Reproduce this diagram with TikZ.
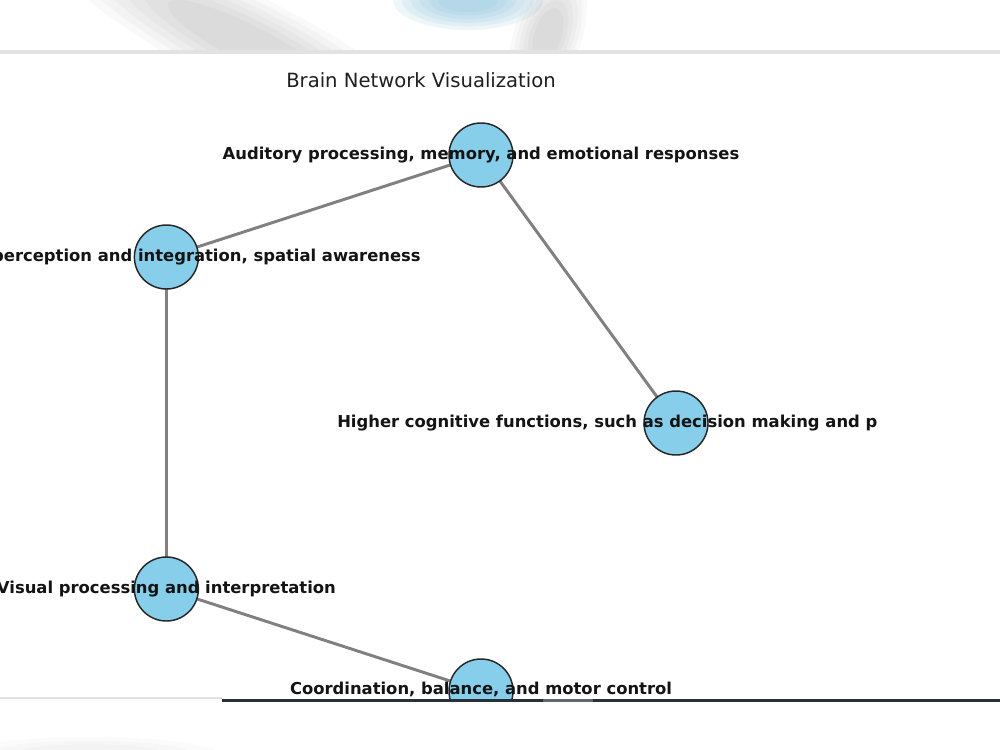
\documentclass[tikz,border=0pt]{standalone}
\usepackage{fontspec}
\setmainfont{DejaVu Sans}
\pgfdeclarelayer{bg}\pgfdeclarelayer{edges}\pgfdeclarelayer{top}
\pgfsetlayers{bg,edges,main,top}
\definecolor{sky}{HTML}{87CEEB}
\definecolor{blurblue}{HTML}{7FBFDA}
\definecolor{linkgray}{HTML}{808080}
\definecolor{darkbar}{HTML}{263238}
\definecolor{midbar}{HTML}{5F6A6E}
\definecolor{panelline}{HTML}{E2E2E2}
\begin{document}
\begin{tikzpicture}[x=0.75pt,y=-0.75pt,
  brainnode/.style={circle,fill=sky,draw=black!85,line width=1.1pt,minimum size=48pt,inner sep=0pt},
  link/.style={draw=linkgray,line width=2.2pt},
  lbl/.style={font=\fontsize{12.3}{14}\selectfont\bfseries,text=black!92,inner sep=0pt},
  ttl/.style={font=\fontsize{14.7}{17}\selectfont,text=black!88,inner sep=0pt},
  softgray/.style={fill=black,fill opacity=0.022},
  softblue/.style={fill=blurblue,fill opacity=0.13}]
\useasboundingbox (0,0) rectangle (1000,750);
\clip (0,0) rectangle (1000,750);
\begin{pgfonlayer}{bg}
  \fill[white] (0,0) rectangle (1000,750);
  \begin{scope}
    \clip (0,0) rectangle (1000,50);
    \foreach \s in {1.0,0.88,0.76,0.64,0.52,0.4} {
      \fill[softgray,rotate around={-27:(250,45)}] (250,45) ellipse ({230*\s} and {48*\s});
      \fill[softgray,rotate around={72:(548,35)}] (548,35) ellipse ({70*\s} and {34*\s});
      \fill[softblue] (468,0) ellipse ({75*\s} and {30*\s});
    }
  \end{scope}
  \foreach \s in {1.0,0.8,0.6} {
    \fill[fill=black,fill opacity=0.015] (90,755) ellipse ({130*\s} and {18*\s});
  }
  \fill[panelline] (0,50) rectangle (1000,53.5);
\end{pgfonlayer}
\begin{scope}
  \clip (0,53.5) rectangle (1000,699);
  \node[ttl] (title) at (421,80) {Brain Network Visualization};
  \node[brainnode] (aud) at (481,155) {};
  \node[brainnode] (per) at (166.4,257) {};
  \node[brainnode] (hig) at (676,423) {};
  \node[brainnode] (vis) at (166.4,589) {};
  \node[brainnode] (coo) at (481,691) {};
  \begin{pgfonlayer}{edges}
    \draw[link] (aud.center) -- (per.center);
    \draw[link] (aud.center) -- (hig.center);
    \draw[link] (per.center) -- (vis.center);
    \draw[link] (vis.center) -- (coo.center);
  \end{pgfonlayer}
  \node[lbl] (laud) at (aud.center) {Auditory processing, memory, and emotional responses};
  \node[lbl,anchor=east] (lper) at (421,257) {perception and integration, spatial awareness};
  \node[lbl,anchor=west] (lhig) at (337,423) {Higher cognitive functions, such as decision making and p};
  \node[lbl] (lvis) at (vis.center) {Visual processing and interpretation};
  \node[lbl] (lcoo) at (481,689) {Coordination, balance, and motor control};
\end{scope}
\begin{pgfonlayer}{top}
  \fill[panelline] (0,697) rectangle (222,699);
  \fill[darkbar] (222,698.5) rectangle (1000,702);
  \fill[midbar] (543,698.5) rectangle (593,702);
\end{pgfonlayer}
\end{tikzpicture}
\end{document}
